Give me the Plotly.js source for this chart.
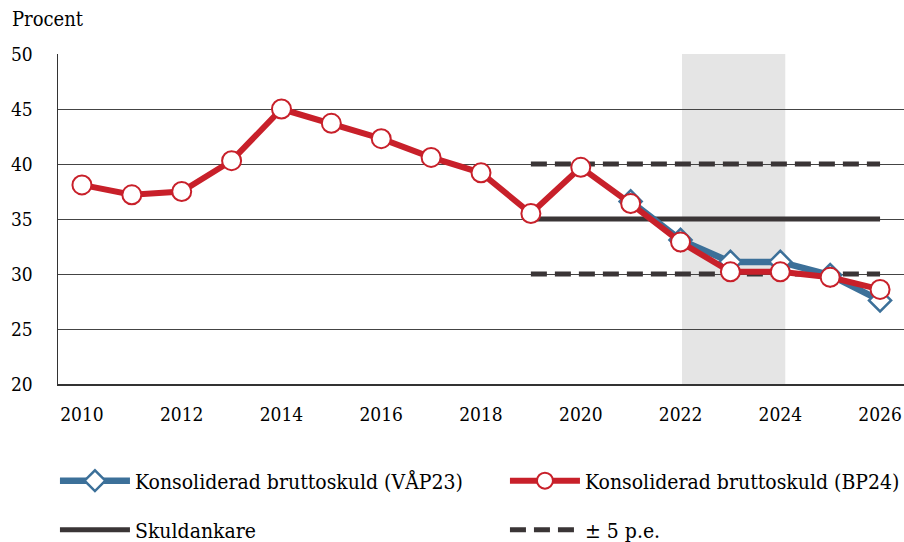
<!DOCTYPE html>
<html><head><meta charset="utf-8">
<script src="https://cdn.plot.ly/plotly-3.0.1.min.js"></script>
<style>html,body{margin:0;padding:0;background:#fff}</style>
</head><body>
<div id="chart" style="width:904px;height:542px"></div>
<script>
// Data
const years = [2010,2011,2012,2013,2014,2015,2016,2017,2018,2019,2020,2021,2022,2023,2024,2025,2026];
const bp24 = [38.1,37.2,37.5,40.3,45.0,43.7,42.3,40.6,39.2,35.5,39.7,36.4,32.9,30.2,30.2,29.7,28.6];
const vap23Years = [2021,2022,2023,2024,2025,2026];
const vap23 = [36.6,33.1,31.1,31.1,29.9,27.6];
const anchorYears = [2019,2026];
const anchorValue = 35;
const bandOffset = 5;
const shadeYears = [2022.03, 2024.1];
const names = ['Konsoliderad bruttoskuld (VÅP23)','Konsoliderad bruttoskuld (BP24)','Skuldankare','± 5 p.e.'];
const yTicks = [20,25,30,35,40,45,50];
const xTicks = [2010,2012,2014,2016,2018,2020,2022,2024,2026];

const FONT = '"DejaVu Serif Condensed", "DejaVu Serif", serif';
const RED = '#c8202a', BLUE = '#3c7099', DARK = '#3a3536';

const traces = [
  {x: anchorYears, y: anchorYears.map(()=>anchorValue), mode:'lines', name:names[2],
   line:{color:DARK, width:5}, legend:'legend2', hoverinfo:'skip'},
  {x: [anchorYears[0], anchorYears[1], null, anchorYears[0], anchorYears[1]],
   y: [anchorValue+bandOffset, anchorValue+bandOffset, null, anchorValue-bandOffset, anchorValue-bandOffset],
   mode:'lines', name:names[3], connectgaps:false,
   line:{color:DARK, width:5, dash:'16px,8px'}, legend:'legend2', hoverinfo:'skip'},
  {x: vap23Years, y: vap23, mode:'lines+markers', name:names[0],
   line:{color:BLUE, width:6.5},
   marker:{symbol:'diamond', size:17, color:'#fff', line:{color:BLUE, width:2.5}}, legend:'legend'},
  {x: years, y: bp24, mode:'lines+markers', name:names[1],
   line:{color:RED, width:6},
   marker:{symbol:'circle', size:19, color:'#fff', line:{color:RED, width:2}}, legend:'legend'}
];

const legendBase = {orientation:'h', x:-0.0036, xanchor:'left', yanchor:'middle',
  entrywidth:365, entrywidthmode:'pixels', itemwidth:70,
  font:{family:FONT, size:21, color:'#000'}, bgcolor:'rgba(0,0,0,0)', traceorder:'normal'};

const layout = {
  width:904, height:542,
  margin:{l:58, r:0, t:54, b:158, autoexpand:false},
  paper_bgcolor:'#fff', plot_bgcolor:'#fff',
  font:{family:FONT, color:'#000', size:19},
  showlegend:true,
  xaxis:{range:[2009.52, 2026.48], tickvals:xTicks, ticktext:xTicks.map(String),
    showgrid:false, zeroline:false, showline:true, linecolor:'#333', linewidth:1.5,
    ticks:'', ticklabelstandoff:13, tickfont:{family:FONT, size:19, color:'#000'}},
  yaxis:{range:[20,50], tickvals:yTicks, ticktext:yTicks.map(String),
    showgrid:true, gridcolor:'#444', gridwidth:1, zeroline:false,
    showline:true, linecolor:'#333', linewidth:1.5, ticks:'', ticklabelstandoff:20,
    tickfont:{family:FONT, size:19, color:'#000'}},
  shapes:[{type:'rect', xref:'x', yref:'y', x0:shadeYears[0], x1:shadeYears[1], y0:20, y1:50,
    fillcolor:'#e5e5e5', line:{width:0}, layer:'below'}],
  annotations:[{text:'Procent', xref:'paper', yref:'paper', x:0, y:1, xshift:-48, yshift:35,
    xanchor:'left', yanchor:'middle', showarrow:false, font:{family:FONT, size:20, color:'#000'}}],
  legend:Object.assign({}, legendBase, {y:-0.294}),
  legend2:Object.assign({}, legendBase, {y:-0.443})
};

Plotly.newPlot('chart', traces, layout, {displayModeBar:false, staticPlot:true});
</script>
</body></html>
